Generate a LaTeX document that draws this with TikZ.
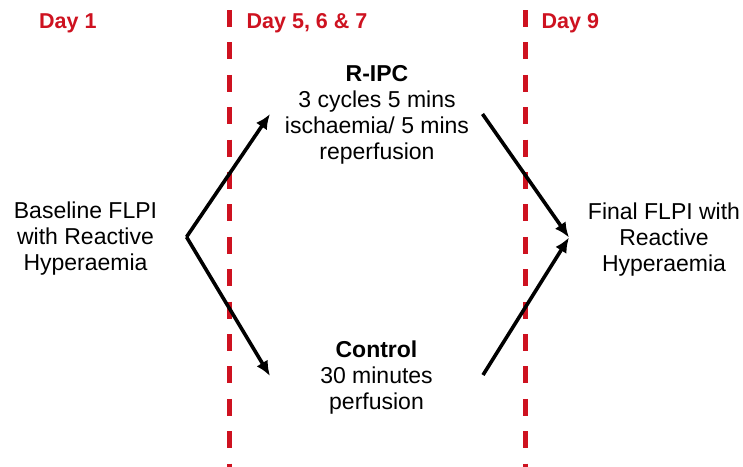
\documentclass[tikz,border=0pt]{standalone}
\usepackage{fontspec}
\setmainfont{Liberation Sans}
\usetikzlibrary{arrows.meta}
\definecolor{dayred}{RGB}{206,18,32}
\tikzset{
  x=1pt, y=-1pt,
  daylabel/.style={anchor=base west, inner sep=0pt, text=dayred, font=\fontsize{21.5}{25}\selectfont\bfseries},
  bodytext/.style={anchor=base, inner sep=0pt, align=center, font=\fontsize{23}{26}\selectfont},
  timeline/.style={draw=dayred, line width=4.5pt, dash pattern=on 17pt off 15.4pt},
  flow/.style={draw=black, line width=3.6pt, -{Latex[length=15pt,width=13pt]}}
}
\begin{document}
\begin{tikzpicture}
\useasboundingbox (0,0) rectangle (743,466);
\fill[white] (0,0) rectangle (743,466);
% timelines
\coordinate (l1top) at (229.5,10);
\coordinate (l1bot) at (229.5,470);
\coordinate (l2top) at (525.5,10);
\coordinate (l2bot) at (525.5,470);
\draw[timeline] (l1top) -- (l1bot);
\draw[timeline] (l2top) -- (l2bot);
% day labels
\node[daylabel] (day1) at (39,28) {Day 1};
\node[daylabel] (day5) at (246.5,28) {Day 5, 6 \& 7};
\node[daylabel] (day9) at (541.5,28) {Day 9};
% texts (anchored at the baseline of their last line)
\node[bodytext] (base) at (85.5,270) {Baseline FLPI\\with Reactive\\Hyperaemia};
\node[bodytext] (ripc) at (377,159) {\textbf{R-IPC}\\3 cycles 5 mins\\ischaemia/ 5 mins\\reperfusion};
\node[bodytext] (ctrl) at (376.5,409) {\textbf{Control}\\30 minutes\\perfusion};
\node[bodytext] (final) at (664,271) {Final FLPI with\\Reactive\\Hyperaemia};
% arrow points
\coordinate (split) at (186.5,237);
\coordinate (ripcin) at (270,114);
\coordinate (ctrlin) at (270,376);
\coordinate (ripcout) at (482.5,114);
\coordinate (ctrlout) at (483,375);
\coordinate (merge) at (569,237.5);
\draw[flow] (split) -- (ripcin);
\draw[flow] (split) -- (ctrlin);
\draw[flow] (ripcout) -- (merge);
\draw[flow] (ctrlout) -- (merge);
\end{tikzpicture}
\end{document}
